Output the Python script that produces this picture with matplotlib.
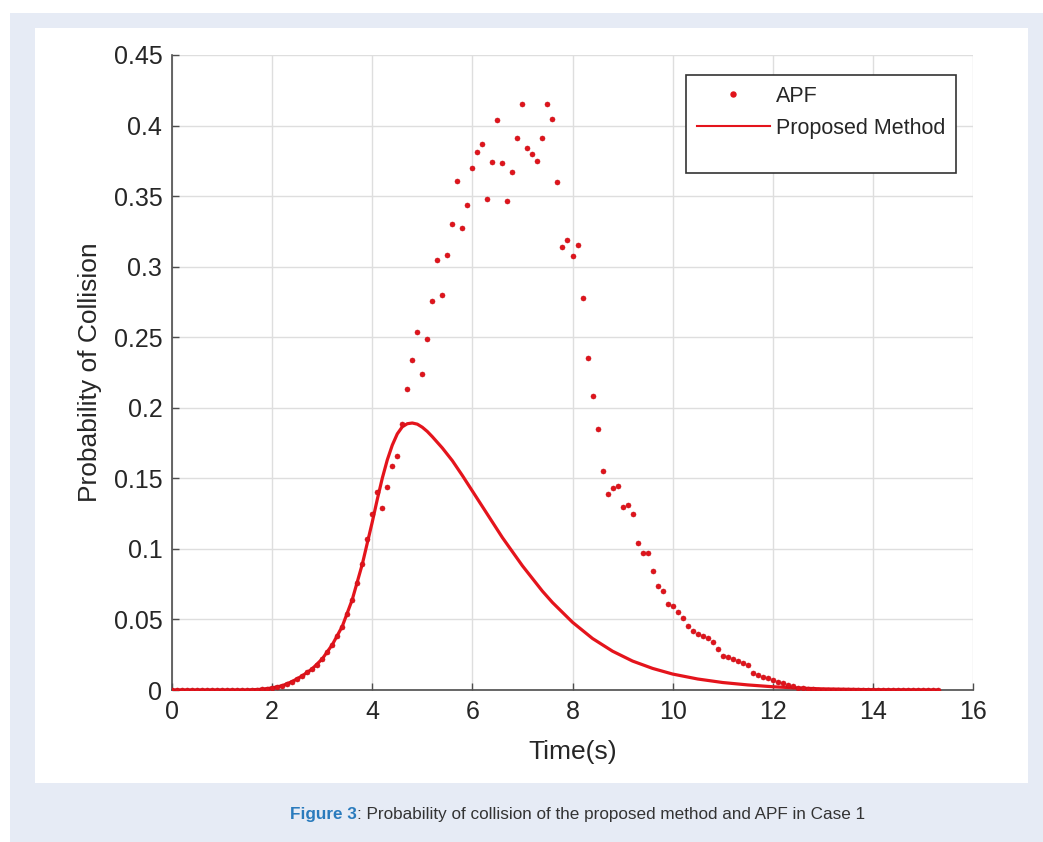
import numpy as np
import matplotlib
matplotlib.use("Agg")
import matplotlib.pyplot as plt
from matplotlib.patches import Rectangle
from matplotlib.lines import Line2D

# ---------------- data ----------------
apf_time = np.round(np.arange(0, 15.35, 0.1), 1)
apf_prob = [
    0, 0, 0, 0, 0, 0, 0, 0, 0, 0,                      # 0.0-0.9
    0, 0, 0, 0, 0, 0, 0.0002, 0.0003, 0.0005, 0.001,    # 1.0-1.9
    0.0015, 0.002, 0.003, 0.0045, 0.006, 0.008, 0.010, 0.0125, 0.015, 0.018,  # 2.0-2.9
    0.022, 0.027, 0.032, 0.038, 0.045, 0.054, 0.064, 0.076, 0.089, 0.107,     # 3.0-3.9
    0.125, 0.140, 0.129, 0.1437, 0.159, 0.166, 0.1885, 0.213, 0.234, 0.254,   # 4.0-4.9
    0.224, 0.249, 0.276, 0.305, 0.280, 0.308, 0.330, 0.3605, 0.3276, 0.344,   # 5.0-5.9
    0.370, 0.381, 0.387, 0.348, 0.374, 0.4037, 0.3735, 0.3466, 0.367, 0.3914, # 6.0-6.9
    0.415, 0.384, 0.380, 0.375, 0.391, 0.415, 0.405, 0.360, 0.3137, 0.319,    # 7.0-7.9
    0.3078, 0.3154, 0.278, 0.235, 0.208, 0.1848, 0.155, 0.139, 0.143, 0.1446, # 8.0-8.9
    0.1295, 0.131, 0.1247, 0.104, 0.097, 0.097, 0.084, 0.0737, 0.070, 0.0607, # 9.0-9.9
    0.0595, 0.055, 0.0512, 0.0454, 0.0418, 0.040, 0.0385, 0.0366, 0.034, 0.0289,  # 10.0-10.9
    0.024, 0.0232, 0.0217, 0.0203, 0.0189, 0.0177, 0.012, 0.0106, 0.0094, 0.0083, # 11.0-11.9
    0.0071, 0.006, 0.0047, 0.0035, 0.0025, 0.0017, 0.0012, 0.0008, 0.0005, 0.0003, # 12.0-12.9
    0.0002, 0.0001, 0, 0, 0, 0, 0, 0, 0, 0,            # 13.0-13.9
    0, 0, 0, 0, 0, 0, 0, 0, 0, 0,                      # 14.0-14.9
    0, 0, 0, 0,                                        # 15.0-15.3
]

proposed_time = [0, 0.5, 1.0, 1.5, 1.6, 1.8, 2.0, 2.2, 2.4, 2.6, 2.8, 3.0, 3.2, 3.4,
                 3.6, 3.8, 4.0, 4.1, 4.2, 4.3, 4.4, 4.5, 4.6, 4.7, 4.8, 4.9, 5.0,
                 5.1, 5.2, 5.4, 5.6, 5.8, 6.0, 6.2, 6.4, 6.6, 6.8, 7.0, 7.2, 7.4, 7.6,
                 7.8, 8.0, 8.4, 8.8, 9.2, 9.6, 10.0, 10.5, 11.0, 11.5, 12.0, 12.5,
                 13.0, 14.0, 15.3]
proposed_prob = [0, 0, 0, 0, 0.0002, 0.0005, 0.0015, 0.003, 0.006, 0.010, 0.015, 0.022,
                 0.032, 0.045, 0.064, 0.089, 0.119, 0.135, 0.150, 0.163, 0.1735, 0.1815,
                 0.1865, 0.1887, 0.1892, 0.1884, 0.1862, 0.1832, 0.1795, 0.1715, 0.1625,
                 0.152, 0.141, 0.130, 0.119, 0.108, 0.098, 0.088, 0.079, 0.070, 0.062,
                 0.055, 0.048, 0.0365, 0.0275, 0.0205, 0.0153, 0.0113, 0.0078, 0.0053,
                 0.0036, 0.0023, 0.0014, 0.0008, 0.0002, 0.0]

x_ticks = [0, 2, 4, 6, 8, 10, 12, 14, 16]
y_ticks = [0, 0.05, 0.1, 0.15, 0.2, 0.25, 0.3, 0.35, 0.4, 0.45]
y_tick_labels = ["0", "0.05", "0.1", "0.15", "0.2", "0.25", "0.3", "0.35", "0.4", "0.45"]

# ---------------- figure ----------------
W, H = 1043, 842
fig = plt.figure(figsize=(W / 100, H / 100), dpi=100)
fig.patch.set_facecolor("white")

# outer light-blue panel and inner white panel
fig.add_artist(Rectangle((10 / W, 0), 1 - 10 / W, 1 - 13 / H, transform=fig.transFigure,
                         facecolor="#e6ebf5", edgecolor="none", zorder=-10))
fig.add_artist(Rectangle((35 / W, 1 - 783 / H), (1028 - 35) / W, (783 - 28) / H,
                         transform=fig.transFigure, facecolor="white",
                         edgecolor="none", zorder=-9))

ax = fig.add_axes([172 / W, 1 - 690 / H, (973 - 172) / W, (690 - 55) / H])
ax.set_facecolor("white")

red = "#e4141c"
ax.plot(proposed_time, proposed_prob, color=red, lw=2.3, zorder=3,
        solid_capstyle="round", solid_joinstyle="round")
ax.plot(apf_time, apf_prob, linestyle="none", marker="o", markersize=3.6,
        markerfacecolor="#e0131b", markeredgecolor="#c81018", markeredgewidth=0.4,
        zorder=4)

ax.set_xlim(0, 16)
ax.set_ylim(0, 0.45)
ax.set_xticks(x_ticks)
ax.set_yticks(y_ticks)
ax.set_yticklabels(y_tick_labels)
ax.grid(True, color="#dedede", lw=1.0)
ax.set_axisbelow(True)

for s in ["top", "right"]:
    ax.spines[s].set_visible(False)
for s in ["left", "bottom"]:
    ax.spines[s].set_color("#4d4d4d")
    ax.spines[s].set_linewidth(1.2)

fontfam = ["Liberation Sans", "DejaVu Sans"]
ax.tick_params(direction="in", length=5, width=1, color="#4d4d4d",
               labelsize=18, labelcolor="#262626", pad=7)
for lab in ax.get_xticklabels() + ax.get_yticklabels():
    lab.set_family(fontfam)

ax.set_xlabel("Time(s)", fontsize=19, color="#262626", family=fontfam)
ax.set_ylabel("Probability of Collision", fontsize=19, color="#262626",
              family=fontfam)
ax.xaxis.set_label_coords(0.5, -(752 - 690) / 635, transform=ax.transAxes)
ax.xaxis.label.set_va("center")
ax.yaxis.set_label_coords(-(172 - 90) / 801, 0.5, transform=ax.transAxes)
ax.yaxis.label.set_va("center")

# legend frame + entries
ax.add_patch(Rectangle((0.6417, 0.8142), 0.9788 - 0.6417, 0.9685 - 0.8142,
                       transform=ax.transAxes, facecolor="white",
                       edgecolor="#333333", lw=1.2, zorder=5, clip_on=False))
h_apf = Line2D([], [], linestyle="none", marker="o", markersize=3.6, color="#e0131b")
h_prop = Line2D([], [], color=red, lw=1.5)
leg = ax.legend([h_apf, h_prop], ["APF", "Proposed Method"], loc="upper left",
                bbox_to_anchor=(0.6417, 0.9685), frameon=False,
                handlelength=3.4, handletextpad=0.3, borderpad=0.5,
                borderaxespad=0.0, labelspacing=0.5,
                prop={"family": fontfam, "size": 15.5})
leg.set_zorder(6)
for t in leg.get_texts():
    t.set_color("#262626")

# caption
cap_fam = ["Liberation Sans", "DejaVu Sans"]
t1 = fig.text(290 / W, 1 - 815 / H, "Figure 3", fontsize=12.3, fontweight="bold",
              color="#2a7bbd", family=cap_fam, va="center", ha="left")
fig.canvas.draw()
bb = t1.get_window_extent()
fig.text(bb.x1 / W, 1 - 815 / H, ": Probability of collision of the proposed method and APF in Case 1",
         fontsize=12.3, color="#333333", family=cap_fam, va="center", ha="left")

fig.savefig("out.png", dpi=100, facecolor=fig.get_facecolor())
